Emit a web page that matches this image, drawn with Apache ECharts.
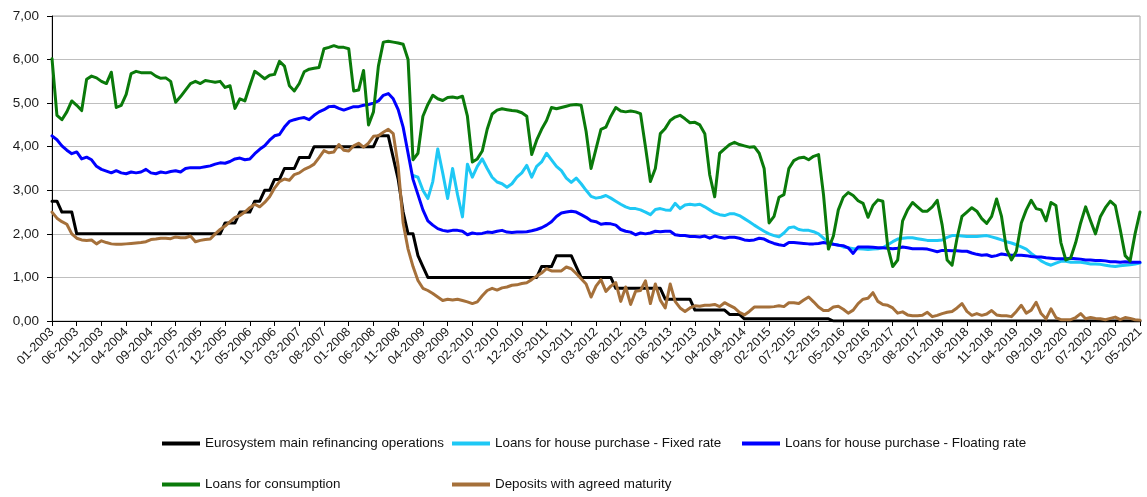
<!DOCTYPE html>
<html>
<head>
<meta charset="utf-8">
<script src="https://cdn.jsdelivr.net/npm/echarts@6/dist/echarts.min.js"></script>
<style>
html,body{margin:0;padding:0;background:#fff;}
#chart{width:1147px;height:497px;}
</style>
</head>
<body>
<div id="chart"></div>
<script>
// ---- Data (monthly, 01-2003 .. 05-2021) ----
const startYear = 2003;
const monthCount = 221;
const categories = [];
for (let k = 0; k < monthCount; k++) {
  const y = startYear + Math.floor(k / 12);
  const m = (k % 12) + 1;
  categories.push((m < 10 ? '0' : '') + m + '-' + y);
}

const seriesNames = [
  'Eurosystem main refinancing operations',
  'Loans for house purchase - Fixed rate',
  'Loans for house purchase - Floating rate',
  'Loans for consumption',
  'Deposits with agreed maturity'
];

const mro = [
  2.75,2.75,2.5,2.5,2.5,2,2,2,2,2,2,2,
  2,2,2,2,2,2,2,2,2,2,2,2,
  2,2,2,2,2,2,2,2,2,2,2,2.25,
  2.25,2.25,2.5,2.5,2.5,2.75,2.75,3,3,3.25,3.25,3.5,
  3.5,3.5,3.75,3.75,3.75,4,4,4,4,4,4,4,
  4,4,4,4,4,4,4.25,4.25,4.25,3.75,3.25,2.5,
  2,2,1.5,1.25,1,1,1,1,1,1,1,1,
  1,1,1,1,1,1,1,1,1,1,1,1,
  1,1,1,1.25,1.25,1.25,1.5,1.5,1.5,1.5,1.25,1,
  1,1,1,1,1,1,0.75,0.75,0.75,0.75,0.75,0.75,
  0.75,0.75,0.75,0.75,0.5,0.5,0.5,0.5,0.5,0.5,0.25,0.25,
  0.25,0.25,0.25,0.25,0.25,0.15,0.15,0.15,0.05,0.05,0.05,0.05,
  0.05,0.05,0.05,0.05,0.05,0.05,0.05,0.05,0.05,0.05,0.05,0.05,
  0.05,0.05,0,0,0,0,0,0,0,0,0,0,
  0,0,0,0,0,0,0,0,0,0,0,0,
  0,0,0,0,0,0,0,0,0,0,0,0,
  0,0,0,0,0,0,0,0,0,0,0,0,
  0,0,0,0,0,0,0,0,0,0,0,0,
  0,0,0,0,0
];

const fixedRate = [
  null,null,null,null,null,null,null,null,null,null,null,null,
  null,null,null,null,null,null,null,null,null,null,null,null,
  null,null,null,null,null,null,null,null,null,null,null,null,
  null,null,null,null,null,null,null,null,null,null,null,null,
  null,null,null,null,null,null,null,null,null,null,null,null,
  null,null,null,null,null,null,null,null,null,null,null,null,
  null,3.34,3.30,3.00,2.81,3.20,3.95,3.40,2.81,3.50,2.90,2.39,
  3.60,3.30,3.55,3.72,3.50,3.30,3.19,3.15,3.07,3.15,3.30,3.40,
  3.57,3.30,3.55,3.65,3.85,3.70,3.55,3.45,3.28,3.18,3.28,3.15,
  3.00,2.86,2.82,2.84,2.88,2.82,2.75,2.68,2.62,2.58,2.58,2.55,
  2.50,2.44,2.56,2.58,2.55,2.54,2.70,2.58,2.66,2.68,2.66,2.68,
  2.62,2.55,2.48,2.44,2.42,2.46,2.46,2.42,2.35,2.28,2.20,2.13,
  2.06,2.00,1.96,1.93,2.02,2.14,2.16,2.10,2.08,2.08,2.05,2.00,
  1.90,1.82,1.76,1.75,1.70,1.68,1.66,1.66,1.65,1.64,1.65,1.66,
  1.68,1.75,1.82,1.88,1.90,1.91,1.91,1.89,1.87,1.85,1.85,1.85,
  1.86,1.92,1.96,1.96,1.95,1.94,1.94,1.94,1.95,1.96,1.93,1.90,
  1.86,1.82,1.79,1.75,1.70,1.65,1.55,1.47,1.38,1.32,1.28,1.33,
  1.37,1.37,1.35,1.35,1.35,1.33,1.31,1.31,1.30,1.28,1.26,1.25,
  1.27,1.28,1.29,1.31,1.33
];

const floatingRate = [
  4.25,4.16,4.02,3.92,3.84,3.88,3.72,3.76,3.70,3.55,3.48,3.44,
  3.40,3.45,3.40,3.38,3.42,3.40,3.42,3.48,3.40,3.38,3.42,3.40,
  3.43,3.45,3.42,3.50,3.52,3.52,3.52,3.54,3.56,3.60,3.63,3.62,
  3.66,3.72,3.74,3.70,3.72,3.84,3.94,4.02,4.15,4.25,4.28,4.45,
  4.58,4.62,4.65,4.67,4.62,4.72,4.80,4.85,4.92,4.93,4.88,4.84,
  4.88,4.92,4.92,4.95,4.97,5.00,5.05,5.18,5.22,5.10,4.85,4.45,
  3.85,3.25,2.90,2.55,2.30,2.20,2.12,2.08,2.06,2.08,2.08,2.06,
  1.98,2.02,2.00,2.01,2.04,2.03,2.06,2.08,2.04,2.03,2.04,2.04,
  2.05,2.07,2.10,2.14,2.20,2.28,2.40,2.48,2.50,2.52,2.50,2.44,
  2.38,2.30,2.28,2.22,2.24,2.23,2.20,2.10,2.06,2.04,1.98,2.02,
  2.00,2.02,2.06,2.05,2.06,2.06,1.98,1.96,1.96,1.94,1.94,1.93,
  1.95,1.90,1.95,1.92,1.90,1.92,1.92,1.90,1.86,1.85,1.86,1.90,
  1.88,1.82,1.78,1.75,1.73,1.80,1.80,1.79,1.78,1.77,1.77,1.78,
  1.80,1.78,1.76,1.74,1.73,1.68,1.55,1.70,1.70,1.70,1.69,1.68,
  1.68,1.67,1.66,1.67,1.70,1.68,1.66,1.66,1.66,1.65,1.62,1.59,
  1.62,1.62,1.61,1.61,1.60,1.60,1.56,1.53,1.51,1.52,1.48,1.50,
  1.54,1.52,1.51,1.51,1.51,1.50,1.48,1.47,1.47,1.45,1.44,1.43,
  1.43,1.43,1.44,1.43,1.42,1.40,1.40,1.39,1.39,1.38,1.36,1.36,
  1.35,1.36,1.35,1.35,1.35
];

const consumption = [
  6.02,4.72,4.62,4.80,5.05,4.95,4.83,5.55,5.62,5.58,5.50,5.45,
  5.71,4.90,4.95,5.20,5.68,5.73,5.70,5.70,5.70,5.62,5.57,5.58,
  5.50,5.02,5.15,5.30,5.45,5.50,5.45,5.52,5.50,5.48,5.50,5.36,
  5.40,4.88,5.10,5.05,5.40,5.73,5.65,5.56,5.64,5.66,5.96,5.85,
  5.40,5.28,5.45,5.72,5.78,5.80,5.82,6.25,6.28,6.32,6.28,6.28,
  6.25,5.28,5.30,5.75,4.50,4.80,5.85,6.40,6.42,6.40,6.38,6.35,
  6.00,3.70,3.85,4.70,4.97,5.18,5.10,5.06,5.13,5.14,5.12,5.16,
  4.70,3.65,3.72,3.90,4.40,4.75,4.84,4.87,4.85,4.83,4.82,4.78,
  4.70,3.82,4.15,4.40,4.60,4.90,4.87,4.90,4.93,4.96,4.97,4.95,
  4.35,3.50,3.95,4.40,4.45,4.70,4.90,4.82,4.80,4.82,4.80,4.76,
  4.00,3.20,3.50,4.30,4.42,4.60,4.68,4.72,4.64,4.55,4.56,4.50,
  4.30,3.35,2.85,3.85,3.95,4.05,4.10,4.05,4.02,3.99,4.00,3.85,
  3.50,2.25,2.40,2.84,2.90,3.50,3.68,3.74,3.76,3.70,3.78,3.82,
  2.90,1.65,1.95,2.55,2.84,2.95,2.88,2.76,2.70,2.38,2.65,2.78,
  2.75,1.70,1.25,1.40,2.30,2.55,2.72,2.62,2.52,2.52,2.62,2.77,
  2.20,1.40,1.28,1.90,2.40,2.50,2.60,2.52,2.35,2.24,2.40,2.80,
  2.40,1.65,1.40,1.60,2.25,2.55,2.77,2.58,2.55,2.30,2.72,2.65,
  1.80,1.40,1.45,1.80,2.25,2.62,2.30,2.00,2.40,2.60,2.75,2.65,
  2.10,1.50,1.38,2.00,2.50
];

const deposits = [
  2.50,2.36,2.28,2.22,2.00,1.90,1.86,1.85,1.86,1.77,1.84,1.80,
  1.77,1.76,1.76,1.77,1.78,1.79,1.80,1.82,1.87,1.88,1.90,1.90,
  1.89,1.93,1.91,1.91,1.95,1.82,1.85,1.87,1.88,2.00,2.10,2.18,
  2.28,2.38,2.42,2.50,2.60,2.68,2.62,2.72,2.85,3.05,3.20,3.26,
  3.23,3.36,3.40,3.48,3.53,3.60,3.75,3.91,3.86,3.88,4.05,3.92,
  3.90,4.02,4.08,3.99,4.08,4.24,4.25,4.33,4.40,4.30,3.55,2.25,
  1.65,1.25,0.93,0.75,0.70,0.63,0.55,0.47,0.50,0.48,0.50,0.47,
  0.44,0.40,0.44,0.58,0.70,0.75,0.71,0.76,0.78,0.82,0.83,0.86,
  0.88,0.95,1.03,1.10,1.20,1.15,1.15,1.15,1.24,1.20,1.09,0.97,
  0.85,0.55,0.80,0.95,0.68,0.80,0.88,0.45,0.78,0.38,0.68,0.70,
  0.92,0.40,0.85,0.48,0.30,0.85,0.45,0.30,0.22,0.30,0.35,0.34,
  0.36,0.36,0.38,0.33,0.42,0.36,0.30,0.20,0.14,0.22,0.32,0.32,
  0.32,0.32,0.33,0.35,0.33,0.42,0.42,0.40,0.48,0.55,0.44,0.32,
  0.24,0.24,0.32,0.34,0.27,0.18,0.25,0.40,0.50,0.52,0.65,0.45,
  0.38,0.36,0.30,0.18,0.21,0.14,0.12,0.12,0.13,0.20,0.10,0.13,
  0.17,0.20,0.22,0.30,0.40,0.22,0.13,0.17,0.13,0.16,0.24,0.14,
  0.12,0.12,0.10,0.22,0.36,0.18,0.25,0.43,0.17,0.05,0.28,0.08,
  0.03,0.03,0.03,0.08,0.17,0.05,0.08,0.06,0.05,0.03,0.06,0.09,
  0.03,0.08,0.06,0.03,0.02
];

const seriesData = [mro, fixedRate, floatingRate, consumption, deposits];
const seriesColors = ['#000000', '#1ec8f5', '#0000ff', '#0a7a0a', '#a5703a'];

// ---- Chart ----
const FONT = '"Liberation Sans", Arial, sans-serif';
const chart = echarts.init(document.getElementById('chart'), null, {renderer: 'canvas'});

const legendPos = [
  {left: 162, top: 437},
  {left: 452, top: 437},
  {left: 742, top: 437},
  {left: 162, top: 478},
  {left: 452, top: 478}
];

const legends = seriesNames.map((n, k) => ({
  data: [n],
  left: legendPos[k].left,
  top: legendPos[k].top,
  icon: 'rect',
  itemWidth: 38,
  itemHeight: 4,
  padding: 0,
  selectedMode: false,
  textStyle: {fontFamily: FONT, fontSize: 13.4, color: '#111'}
}));

const option = {
  animation: false,
  backgroundColor: '#ffffff',
  textStyle: {fontFamily: FONT},
  legend: legends,
  grid: {
    left: 52, right: 7, top: 16, bottom: 176,
    show: true, borderColor: '#a6a6a6', borderWidth: 1, backgroundColor: 'transparent'
  },
  xAxis: {
    type: 'category',
    data: categories,
    boundaryGap: false,
    axisLine: {lineStyle: {color: '#000', width: 1}},
    axisTick: {show: true, interval: 4, length: 5, lineStyle: {color: '#000'}},
    axisLabel: {
      interval: 4, rotate: 45, margin: 9,
      fontFamily: FONT, fontSize: 12.6, color: '#1a1a1a'
    },
    splitLine: {show: false}
  },
  yAxis: {
    type: 'value',
    min: 0, max: 7, interval: 1,
    axisLine: {show: true, lineStyle: {color: '#000', width: 1}},
    axisTick: {show: true, length: 5, lineStyle: {color: '#000'}},
    axisLabel: {
      margin: 13, fontFamily: FONT, fontSize: 13.5, color: '#1a1a1a',
      formatter: v => v.toFixed(2).replace('.', ',')
    },
    splitLine: {show: true, lineStyle: {color: '#bfbfbf', width: 1}}
  },
  series: seriesNames.map((n, k) => ({
    name: n,
    type: 'line',
    data: seriesData[k],
    showSymbol: false,
    symbol: 'none',
    connectNulls: false,
    color: seriesColors[k],
    lineStyle: {width: 3, color: seriesColors[k], join: 'round', cap: 'round'},
    emphasis: {disabled: true},
    z: 2 + k
  }))
};

chart.setOption(option);
</script>
</body>
</html>
